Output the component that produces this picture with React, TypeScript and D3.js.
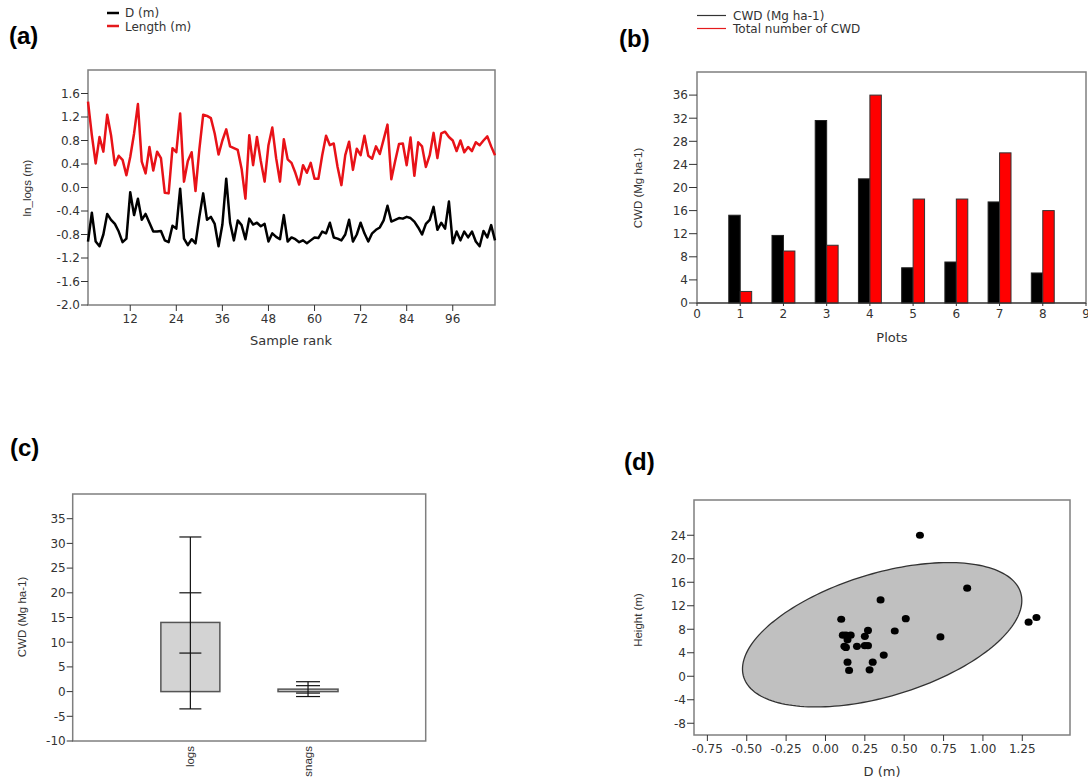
import * as d3 from 'd3';

// (a) ln-transformed log dimensions by sample rank
const sampleRank = d3.range(1, 108);
const lnDiameter = [
  -0.92, -0.43, -0.92, -1.0, -0.8, -0.45, -0.55, -0.62, -0.75, -0.93,
  -0.87, -0.08, -0.47, -0.19, -0.55, -0.45, -0.6, -0.75, -0.75, -0.74,
  -0.9, -0.93, -0.65, -0.7, -0.02, -0.87, -0.98, -0.88, -0.95, -0.5,
  -0.1, -0.55, -0.5, -0.62, -1.0, -0.63, 0.15, -0.6, -0.9, -0.56,
  -0.64, -0.88, -0.53, -0.63, -0.6, -0.66, -0.62, -0.92, -0.78, -0.84,
  -0.88, -0.47, -0.92, -0.85, -0.88, -0.93, -0.9, -0.95, -0.9, -0.85,
  -0.86, -0.75, -0.78, -0.6, -0.85, -0.87, -0.9, -0.8, -0.55, -0.92,
  -0.8, -0.6, -0.78, -0.92, -0.78, -0.72, -0.68, -0.56, -0.31, -0.58,
  -0.55, -0.52, -0.53, -0.5, -0.52, -0.58, -0.68, -0.8, -0.62, -0.55,
  -0.33, -0.72, -0.6, -0.7, -0.24, -0.95, -0.75, -0.9, -0.75, -0.85,
  -0.75, -0.92, -1.0, -0.74, -0.85, -0.64, -0.9,
];
const lnLength = [
  1.46, 0.89, 0.41, 0.86, 0.61, 1.24, 0.89, 0.38, 0.54, 0.47,
  0.21, 0.52, 0.92, 1.42, 0.44, 0.24, 0.69, 0.29, 0.61, 0.5,
  -0.09, -0.1, 0.67, 0.6, 1.26, 0.1, 0.45, 0.6, -0.06, 0.65,
  1.24, 1.22, 1.18, 0.92, 0.56, 0.8, 0.99, 0.7, 0.67, 0.64,
  0.32, -0.19, 0.89, 0.38, 0.86, 0.45, 0.1, 0.72, 1.02, 0.5,
  0.1, 0.82, 0.48, 0.42, 0.25, 0.05, 0.38, 0.25, 0.42, 0.15,
  0.15, 0.55, 0.88, 0.72, 0.75, 0.35, 0.04, 0.55, 0.78, 0.3,
  0.66, 0.55, 0.88, 0.54, 0.49, 0.7, 0.57, 0.82, 1.07, 0.14,
  0.45, 0.74, 0.75, 0.38, 0.85, 0.2, 0.77, 0.7, 0.35, 0.55,
  0.93, 0.5, 0.92, 0.95, 0.86, 0.8, 0.62, 0.8, 0.6, 0.69,
  0.62, 0.77, 0.72, 0.8, 0.87, 0.7, 0.55,
];
const rankTicks = [12, 24, 36, 48, 60, 72, 84, 96];
const lnTicks = [-2.0, -1.6, -1.2, -0.8, -0.4, 0.0, 0.4, 0.8, 1.2, 1.6];

// (b) CWD per plot
const plots = [1, 2, 3, 4, 5, 6, 7, 8];
const cwdMass = [15.2, 11.7, 31.6, 21.5, 6.1, 7.1, 17.5, 5.2];
const cwdNumber = [2, 9, 10, 36, 18, 18, 26, 16];
const plotTicks = [0, 1, 2, 3, 4, 5, 6, 7, 8, 9];
const massTicks = [0, 4, 8, 12, 16, 20, 24, 28, 32, 36];

// (c) logs vs snags
const cwdTypes = ['logs', 'snags'];
const barTops = [14.0, 0.5];
const whiskerLow = [-3.5, -1.0];
const whiskerHigh = [31.3, 2.0];
const capValues = [
  [31.3, 20.0, 7.8, -3.5],
  [2.0, 1.2, -0.3, -1.0],
];
const boxTicks = [-10, -5, 0, 5, 10, 15, 20, 25, 30, 35];

// (d) height vs diameter
const treeD = [0.6, 0.9, 1.29, 1.34, 0.35, 0.51, 0.73, 0.44, 0.1, 0.27, 0.25, 0.11, 0.13, 0.16, 0.14, 0.12, 0.13, 0.2, 0.25, 0.27, 0.37, 0.14, 0.3, 0.15, 0.28];
const treeH = [24, 15, 9.2, 10, 13, 9.8, 6.7, 7.7, 9.7, 7.8, 6.8, 7.0, 7.0, 7.0, 6.2, 5.1, 4.9, 5.1, 5.2, 5.2, 3.6, 2.4, 2.4, 1.0, 1.1];
const dTicks = [-0.75, -0.5, -0.25, 0, 0.25, 0.5, 0.75, 1.0, 1.25];
const hTicks = [-8, -4, 0, 4, 8, 12, 16, 20, 24];
const ellipseCenter = [0.36, 7.06];
const ellipseSd = [0.887, 12.29];
const ellipseCov = 5.17;

const TICK = { fontFamily: 'DejaVu Sans, Verdana, sans-serif', fontSize: 12, fill: '#333' };
const TITLE = { fontFamily: 'DejaVu Sans, Verdana, sans-serif', fontSize: 13, fill: '#333' };
const LEGEND = { fontFamily: 'DejaVu Sans, Verdana, sans-serif', fontSize: 12, fill: '#333' };
const YTITLE = { fontFamily: 'Liberation Sans, Arial, sans-serif', fontSize: 11.5, fill: '#333' };
const PANEL = { fontFamily: 'Liberation Sans, Arial, sans-serif', fontSize: 24, fontWeight: 700, fill: '#000' };
const FRAME = '#7f7f7f';

function LeftTicks({ y, x, values, fmt, len = 7 }: any) {
  return (
    <g>
      {values.map((v: number) => (
        <g key={v}>
          <line x1={x - len} x2={x} y1={y(v)} y2={y(v)} stroke="#333" strokeWidth={1} />
          <text x={x - len - 1} y={y(v)} dy="0.36em" textAnchor="end" style={TICK}>{fmt(v)}</text>
        </g>
      ))}
    </g>
  );
}

function BottomTicks({ x, y, values, fmt, len = 6 }: any) {
  return (
    <g>
      {values.map((v: number) => (
        <g key={v}>
          <line x1={x(v)} x2={x(v)} y1={y} y2={y + len} stroke="#333" strokeWidth={1} />
          <text x={x(v)} y={y + len + 12} textAnchor="middle" style={TICK}>{fmt(v)}</text>
        </g>
      ))}
    </g>
  );
}

function PanelA() {
  const x = d3.scaleLinear().domain([1, 107]).range([88, 495]);
  const y = d3.scaleLinear().domain([-2, 2]).range([305, 70]);
  const line = d3.line<number>().x((_, i) => x(sampleRank[i])).y((d) => y(d));
  return (
    <g>
      <text x={9} y={44} style={PANEL}>(a)</text>
      <line x1={107} x2={119} y1={13} y2={13} stroke="#000" strokeWidth={2.5} />
      <text x={125} y={17} style={LEGEND}>D (m)</text>
      <line x1={107} x2={119} y1={26} y2={26} stroke="#e41a1c" strokeWidth={2.5} />
      <text x={125} y={30.5} style={LEGEND}>Length (m)</text>
      <rect x={88} y={70} width={407} height={235} fill="none" stroke={FRAME} strokeWidth={1.5} />
      <path d={line(lnLength) || ''} fill="none" stroke="#e81218" strokeWidth={2.5} strokeLinejoin="round" />
      <path d={line(lnDiameter) || ''} fill="none" stroke="#000" strokeWidth={2.5} strokeLinejoin="round" />
      <LeftTicks y={y} x={88} values={lnTicks} fmt={(v: number) => v.toFixed(1)} />
      <BottomTicks x={x} y={305} values={rankTicks} fmt={(v: number) => String(v)} />
      <text x={291} y={345} textAnchor="middle" style={TITLE}>Sample rank</text>
      <text transform="translate(31,188) rotate(-90)" textAnchor="middle" style={YTITLE}>ln_logs (m)</text>
    </g>
  );
}

function PanelB() {
  const x = d3.scaleLinear().domain([0, 9]).range([697, 1086]);
  const y = d3.scaleLinear().domain([0, 40]).range([303, 72]);
  const bw = 0.265;
  return (
    <g>
      <text x={619} y={47} style={PANEL}>(b)</text>
      <line x1={697} x2={726} y1={15.5} y2={15.5} stroke="#333" strokeWidth={1.2} />
      <text x={733} y={19.5} style={LEGEND}>CWD (Mg ha-1)</text>
      <line x1={697} x2={726} y1={28.5} y2={28.5} stroke="#e41a1c" strokeWidth={1.2} />
      <text x={733} y={32.5} style={LEGEND}>Total number of CWD</text>
      <rect x={697} y={72} width={389} height={231} fill="none" stroke={FRAME} strokeWidth={1.5} />
      {plots.map((p, i) => (
        <g key={p}>
          <rect x={x(p - bw)} y={y(cwdMass[i])} width={x(p) - x(p - bw)} height={y(0) - y(cwdMass[i])} fill="#000" stroke="#222" strokeWidth={1} />
          <rect x={x(p)} y={y(cwdNumber[i])} width={x(p + bw) - x(p)} height={y(0) - y(cwdNumber[i])} fill="#ff0000" stroke="#333" strokeWidth={1} />
        </g>
      ))}
      <line x1={697} x2={1086} y1={y(0)} y2={y(0)} stroke="#333" strokeWidth={1.2} />
      <LeftTicks y={y} x={697} values={massTicks} fmt={(v: number) => String(v)} len={8} />
      <BottomTicks x={x} y={303} values={plotTicks} fmt={(v: number) => String(v)} len={3} />
      <text x={892} y={342} textAnchor="middle" style={TITLE}>Plots</text>
      <text transform="translate(642,188) rotate(-90)" textAnchor="middle" style={YTITLE}>CWD (Mg ha-1)</text>
    </g>
  );
}

function PanelC() {
  const x = d3.scalePoint<string>().domain(cwdTypes).range([72.7, 425.7]).padding(1);
  const y = d3.scaleLinear().domain([-10, 40]).range([741, 494]);
  const boxW = [59, 60];
  const capW = [22, 24];
  return (
    <g>
      <text x={10} y={456} style={PANEL}>(c)</text>
      <rect x={72.7} y={494} width={353} height={247} fill="none" stroke={FRAME} strokeWidth={1.5} />
      {cwdTypes.map((c, i) => {
        const cx = x(c) as number;
        return (
          <g key={c}>
            <rect x={cx - boxW[i] / 2} y={y(barTops[i])} width={boxW[i]} height={y(0) - y(barTops[i])} fill="#d3d3d3" stroke="#555" strokeWidth={1.5} />
            <line x1={cx} x2={cx} y1={y(whiskerHigh[i])} y2={y(whiskerLow[i])} stroke="#111" strokeWidth={1.2} />
            {capValues[i].map((v) => (
              <line key={v} x1={cx - capW[i] / 2} x2={cx + capW[i] / 2} y1={y(v)} y2={y(v)} stroke="#111" strokeWidth={1.2} />
            ))}
            <text transform={`translate(${cx + 4},746) rotate(-90)`} textAnchor="end" style={YTITLE}>{c}</text>
          </g>
        );
      })}
      <LeftTicks y={y} x={72.7} values={boxTicks} fmt={(v: number) => String(v)} len={6} />
      <text transform="translate(26,617) rotate(-90)" textAnchor="middle" style={YTITLE}>CWD (Mg ha-1)</text>
    </g>
  );
}

function PanelD() {
  const x = d3.scaleLinear().domain([-0.835, 1.553]).range([694, 1070]);
  const y = d3.scaleLinear().domain([-10, 30]).range([735, 500]);
  const l11 = ellipseSd[0];
  const l21 = ellipseCov / l11;
  const l22 = Math.sqrt(ellipseSd[1] * ellipseSd[1] - l21 * l21);
  const angles = d3.range(0, 2 * Math.PI, Math.PI / 90);
  const ellipse = d3
    .line<number>()
    .x((t) => x(ellipseCenter[0] + l11 * Math.cos(t)))
    .y((t) => y(ellipseCenter[1] + l21 * Math.cos(t) + l22 * Math.sin(t)))
    .curve(d3.curveLinearClosed);
  return (
    <g>
      <text x={624} y={470} style={PANEL}>(d)</text>
      <rect x={694} y={500} width={376} height={235} fill="none" stroke={FRAME} strokeWidth={1.5} />
      <path d={ellipse(angles) || ''} fill="#c0c0c0" stroke="#333" strokeWidth={1.3} />
      {treeD.map((d, i) => (
        <ellipse key={i} cx={x(d)} cy={y(treeH[i])} rx={4} ry={3.6} fill="#000" />
      ))}
      <LeftTicks y={y} x={694} values={hTicks} fmt={(v: number) => String(v)} len={7} />
      <BottomTicks x={x} y={735} values={dTicks} fmt={(v: number) => v.toFixed(2)} len={6} />
      <text x={882} y={776} textAnchor="middle" style={TITLE}>D (m)</text>
      <text transform="translate(642,620) rotate(-90)" textAnchor="middle" style={YTITLE}>Height (m)</text>
    </g>
  );
}

export default function App() {
  return (
    <svg width={1088} height={781} style={{ position: 'absolute', left: 0, top: 0, background: '#fff' }}>
      <PanelA />
      <PanelB />
      <PanelC />
      <PanelD />
    </svg>
  );
}
